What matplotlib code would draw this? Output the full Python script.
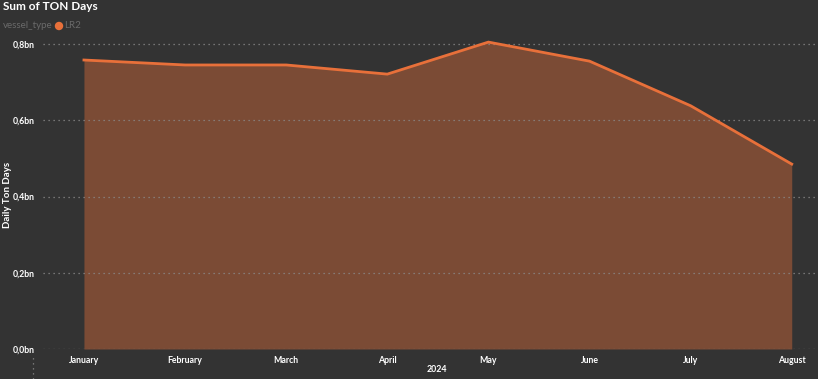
import matplotlib
matplotlib.use("Agg")
import matplotlib.pyplot as plt
import numpy as np

months = ["January", "February", "March", "April", "May", "June", "July", "August"]
ton_days_bn = [0.758, 0.745, 0.745, 0.721, 0.805, 0.755, 0.638, 0.485]
ytick_vals = [0.0, 0.2, 0.4, 0.6, 0.8]
ytick_labels = ["0,0bn", "0,2bn", "0,4bn", "0,6bn", "0,8bn"]

plt.rcParams["font.family"] = ["Lato", "DejaVu Sans"]

BG = "#333333"
FILL = "#7B4B35"
LINE = "#E8703A"
GRID = "#8A8A8A"

W, H = 818, 379
fig = plt.figure(figsize=(W / 100, H / 100), dpi=100)
fig.patch.set_facecolor(BG)

left, right = 43, 815
top, bottom = 40, 349
ax = fig.add_axes([left / W, 1 - bottom / H, (right - left) / W, (bottom - top) / H])
ax.set_facecolor(BG)

x = np.arange(len(months))
ax.fill_between(x, 0, ton_days_bn, color=FILL, linewidth=0, zorder=2)
ax.plot(x, ton_days_bn, color=LINE, linewidth=2, zorder=4, solid_joinstyle="miter")

ax.set_xlim(-0.405, 7.23)
ax.set_ylim(0, 0.8105)

for v in ytick_vals:
    ax.axhline(v, color=GRID, linestyle=(0, (1, 3)), linewidth=0.9, zorder=3)

ax.set_yticks(ytick_vals)
ax.set_yticklabels(ytick_labels)
ax.set_xticks(x)
ax.set_xticklabels(months)
ax.tick_params(axis="both", length=0, colors="white", labelsize=6.3)
ax.tick_params(axis="y", pad=6)
ax.tick_params(axis="x", pad=5)
for lab in ax.get_xticklabels() + ax.get_yticklabels():
    lab.set_fontweight("bold")
for s in ax.spines.values():
    s.set_visible(False)
ax.grid(False)

fig.text(3 / W, 1 - 7 / H, "Sum of TON Days", color="white", fontsize=8.5,
         fontweight="bold", ha="left", va="center")
fig.text(3 / W, 1 - 26 / H, "vessel_type", color="#6A6A6A", fontsize=7,
         ha="left", va="center")
fig.patches.append(matplotlib.patches.Ellipse((59 / W, 1 - 26 / H), 7 / W, 7 / H,
                                              transform=fig.transFigure,
                                              color=LINE, figure=fig))
fig.text(64 / W, 1 - 26 / H, "LR2", color="#6A6A6A", fontsize=7,
         ha="left", va="center")
fig.text(8 / W, 1 - 195 / H, "Daily Ton Days", color="white", fontsize=7,
         fontweight="bold", rotation=90, ha="center", va="center")
fig.text(437 / W, 1 - 369 / H, "2024", color="white", fontsize=6.3,
         fontweight="bold", ha="center", va="center")
fig.add_artist(matplotlib.lines.Line2D([33 / W, 33 / W], [0, 1 - 355 / H],
                                       transform=fig.transFigure, color=GRID,
                                       linestyle=(0, (1, 3)), linewidth=0.9))

fig.savefig("out.png", dpi=100, facecolor=BG)
